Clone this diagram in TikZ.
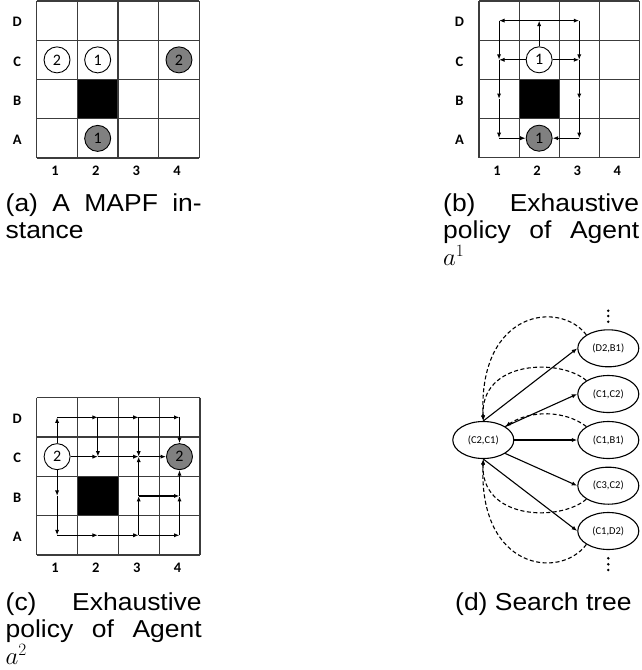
\documentclass[tikz,border=0pt]{standalone}
\usepackage{fontspec}
\setmainfont{Liberation Sans}
\newfontfamily\capfont{Liberation Sans}[FakeStretch=1.08]
\newfontfamily\calfont{Carlito}
\usetikzlibrary{arrows.meta,shapes.geometric}
\definecolor{goalgray}{RGB}{128,128,128}
\definecolor{gridc}{RGB}{60,60,60}
\tikzset{
  gridline/.style={draw=gridc, line width=1.2pt},
  agent/.style={circle, draw=black, line width=0.9pt, minimum size=26pt, inner sep=0pt,
    font=\calfont\fontsize{16}{16}\selectfont},
  startag/.style={agent, fill=white},
  goalag/.style={agent, fill=goalgray},
  lab/.style={font=\calfont\bfseries\fontsize{14.5}{14.5}\selectfont, inner sep=0pt},
  mv/.style={-{Latex[length=5.5pt,width=4.2pt]}, line width=1.1pt},
  st/.style={ellipse, draw, line width=1.1pt, minimum width=61pt, minimum height=37pt,
    inner sep=0pt, font=\calfont\fontsize{10.5}{10.5}\selectfont},
  back/.style={dash pattern=on 4pt off 2.5pt, line width=1.1pt, -{Latex[length=5.5pt,width=4.2pt]}},
  captext/.style={anchor=base west, inner sep=0pt, font=\capfont\fontsize{24.5}{27.3}\selectfont},
}
\newcommand\drawgrid[5]{% #1 prefix, #2 x0, #3 y0, #4 cell w, #5 cell h
  \fill[black] ({#2+#4},{#3+2*#5}) rectangle ({#2+2*#4},{#3+3*#5});
  \foreach \i in {0,...,4}{
    \draw[gridline] ({#2+#4*\i},#3) -- ({#2+#4*\i},{#3+4*#5});
    \draw[gridline] (#2,{#3+#5*\i}) -- ({#2+4*#4},{#3+#5*\i});
  }
  \foreach \r/\rn in {D/0,C/1,B/2,A/3}{
    \foreach \c in {1,2,3,4}{
      \coordinate (#1-\r\c) at ({#2+#4*(\c-0.5)},{#3+#5*(\rn+0.5)});
    }
    \node[lab] (#1-row\r) at ({#2-19.5},{#3+#5*(\rn+0.5)+1.5}) {\r};
  }
  \foreach \c in {1,2,3,4}{
    \node[lab] (#1-col\c) at ({#2+#4*(\c-0.5)-2},{#3+4*#5+12.5}) {\c};
  }
}
\begin{document}
\begin{tikzpicture}[x=1pt,y=-1pt]
\useasboundingbox (0,0) rectangle (642,670);

% ---------- (a) ----------
\drawgrid{a}{36.7}{1}{40.65}{39.25}
\node[startag] (a-s2) at (a-C1) {2};
\node[startag] (a-s1) at (a-C2) {1};
\node[goalag] (a-g2) at (a-C4) {2};
\node[goalag] (a-g1) at (a-A2) {1};

% ---------- (b) ----------
\drawgrid{b}{479}{1}{40.1}{39.2}
\node[startag] (b-s1) at (b-C2) {1};
\node[goalag] (b-g1) at (b-A2) {1};
\draw[mv] (b-s1) -- (b-D2);
\draw[mv] (b-D2) -- (b-D1);
\draw[mv] (b-D2) -- (b-D3);
\draw[mv] (b-D1) -- (b-C1);
\draw[mv] (b-D3) -- (b-C3);
\draw[mv] (b-s1) -- (b-C1);
\draw[mv] (b-s1) -- (b-C3);
\draw[mv] (b-C1) -- (b-B1);
\draw[mv] (b-B1) -- (b-A1);
\draw[mv] (b-A1) -- (b-g1);
\draw[mv] (b-C3) -- (b-B3);
\draw[mv] (b-B3) -- (b-A3);
\draw[mv] (b-A3) -- (b-g1);

% ---------- (c) ----------
\drawgrid{c}{36.7}{397.7}{40.8}{39.3}
\node[startag] (c-s2) at (c-C1) {2};
\node[goalag] (c-g2) at (c-C4) {2};
\draw[mv] (c-s2) -- (c-D1);
\draw[mv] (c-D1) -- (c-D2);
\draw[mv] (c-D2) -- (c-D3);
\draw[mv] (c-D3) -- (c-D4);
\draw[mv] (c-D4) -- (c-g2);
\draw[mv] (c-D2) -- (c-C2);
\draw[mv] (c-D3) -- (c-C3);
\draw[mv] (c-s2) -- (c-C2);
\draw[mv] (c-C2) -- (c-C3);
\draw[mv] (c-C3) -- (c-g2);
\draw[mv] (c-s2) -- (c-B1);
\draw[mv] (c-B1) -- (c-A1);
\draw[mv] (c-A1) -- (c-A2);
\draw[mv] (c-A2) -- (c-A3);
\draw[mv] (c-A3) -- (c-A4);
\draw[mv] (c-A4) -- (c-B4);
\draw[mv] (c-B4) -- (c-g2);
\draw[mv] (c-A3) -- (c-B3);
\draw[mv] (c-B3) -- (c-C3);
\draw[mv] (c-B3) -- (c-B4);

% ---------- (d) ----------
\node[st] (r) at (483.3,440) {(C2,C1)};
\node[st] (n1) at (608.3,348.3) {(D2,B1)};
\node[st] (n2) at (608.3,394) {(C1,C2)};
\node[st] (n3) at (608.3,440) {(C1,B1)};
\node[st] (n4) at (608.3,485.7) {(C3,C2)};
\node[st] (n5) at (608.3,531) {(C1,D2)};
\draw[mv] (r.north) -- (n1.west);
\draw[mv] (r.north east) -- (n2.west);
\draw[mv] (r.east) -- (n3.west);
\draw[mv] (r.south east) -- (n4.west);
\draw[mv] (r.south) -- (n5.west);
\draw[back] (n1.north west) .. controls (560,300) and (478,310) .. (r.north);
\draw[back] (n2.north west) .. controls (560,358) and (480,360) .. (r.north);
\draw[back] (n3.north west) .. controls (565,410) and (530,410) .. (r.north east);
\draw[back] (n4.south west) .. controls (560,522) and (480,520) .. (r.south);
\draw[back] (n5.south west) .. controls (560,580) and (478,570) .. (r.south);
\foreach \yy in {310.7,316,321.7} \fill (608.3,\yy) circle (1.4pt);
\foreach \yy in {558.3,564.3,570} \fill (608.3,\yy) circle (1.4pt);

% ---------- captions ----------
\node[captext] (capa) at (5.5,211) {\parbox[t]{196pt}{\makebox[196pt][s]{(a) A MAPF in-}\\stance}};
\node[captext] (capb) at (443,211) {\parbox[t]{196pt}{\makebox[196pt][s]{(b) Exhaustive}\\\makebox[196pt][s]{policy of Agent}\\$a^1$}};
\node[captext] (capc) at (5.5,610.3) {\parbox[t]{196pt}{\makebox[196pt][s]{(c) Exhaustive}\\\makebox[196pt][s]{policy of Agent}\\$a^2$}};
\node[captext] (capd) at (455,610.3) {(d) Search tree};
\end{tikzpicture}
\end{document}
